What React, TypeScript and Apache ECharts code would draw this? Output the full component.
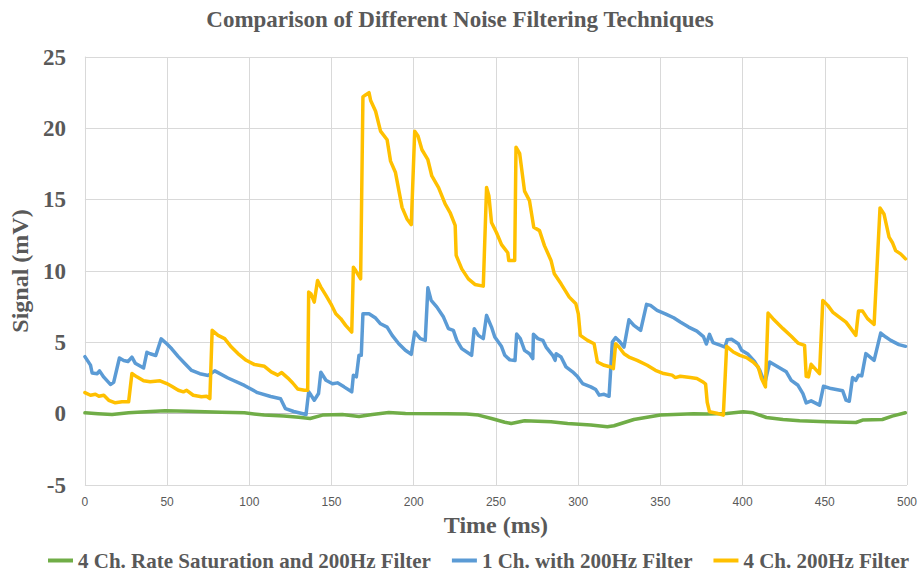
import React, { useEffect, useRef } from "react";
import * as echarts from "echarts";

const seriesNames = [
  "4 Ch. Rate Saturation and 200Hz Filter",
  "1 Ch. with 200Hz Filter",
  "4 Ch. 200Hz Filter",
];
const seriesColors = ["#70AD47", "#5B9BD5", "#FFC000"];

const xTicks = { min: 0, max: 500, interval: 50 };
const yTicks = { min: -5, max: 25, interval: 5 };

const greenT = [0, 8, 16.5, 26.6, 40, 48.8, 62.9, 83, 97, 109, 121, 130, 137, 144.5, 156.6, 166.7, 174.8, 184.8, 195, 220, 232, 239.3, 247.3, 255.4, 259.3, 267.4, 283.5, 293.6, 307.7, 317.8, 321.8, 333.9, 350, 370.2, 378.2, 390.3, 400.4, 406.4, 414.5, 424.6, 434.7, 450.8, 469, 473, 485, 491, 499];
const greenV = [0.06, 0.0, -0.06, 0.06, 0.15, 0.2, 0.17, 0.1, 0.06, -0.1, -0.17, -0.25, -0.34, -0.1, -0.06, -0.2, -0.06, 0.08, 0.01, 0.0, -0.02, -0.1, -0.34, -0.6, -0.69, -0.5, -0.57, -0.69, -0.8, -0.92, -0.85, -0.41, -0.1, 0.0, -0.03, 0.01, 0.13, 0.06, -0.27, -0.41, -0.5, -0.57, -0.62, -0.45, -0.41, -0.17, 0.06];

const blueT = [0, 3.4, 4.4, 7.5, 8.9, 11.5, 15.5, 17.5, 21, 23.6, 26.2, 28.6, 30.6, 35.7, 37.7, 39.7, 43.1, 46.4, 49.8, 52.8, 56.8, 60.9, 64.9, 69.9, 75, 79, 87, 97, 105, 113, 119, 122, 127, 134.5, 136.1, 137.5, 139.5, 142.1, 143.5, 146.6, 150.6, 153.6, 157.6, 162.3, 163.3, 165.1, 166.7, 168.1, 169.1, 172.8, 176.8, 179.8, 183.8, 186.9, 190.9, 194.9, 198.5, 200.6, 204, 207, 208.6, 210.6, 214.1, 218.1, 221.1, 224.1, 226.2, 229.2, 235.2, 236.8, 239.3, 242.3, 244.3, 247.3, 249.3, 253.4, 255.4, 258.4, 261.6, 262.6, 264.8, 267.4, 270.4, 272.4, 272.8, 275.5, 278.5, 280.5, 284.5, 286, 286.6, 289.6, 292.6, 296.6, 299.7, 302.7, 307.7, 310.7, 312.8, 315.8, 318.8, 320.8, 322.8, 325.5, 327.9, 330.9, 333.9, 338, 341.6, 344, 348, 353, 358.1, 362.1, 367.2, 372.2, 376.2, 378, 379.9, 382, 386.3, 389.3, 390.7, 393.3, 397.4, 399.4, 403.4, 407.5, 410.5, 413.5, 416.5, 420.6, 426.6, 429.6, 433.7, 436.7, 438.7, 441.7, 446.8, 449.2, 453.8, 460.9, 462.9, 464.9, 466.9, 468.9, 470.5, 472.5, 475, 480, 484, 487.1, 490.1, 495.1, 499.1];
const blueV = [4.0, 3.4, 2.85, 2.8, 3.0, 2.56, 2.05, 2.2, 3.9, 3.73, 3.66, 3.96, 3.54, 3.2, 4.3, 4.2, 4.08, 5.24, 4.9, 4.55, 4.0, 3.5, 3.03, 2.8, 2.68, 3.0, 2.5, 1.98, 1.47, 1.2, 1.05, 0.35, 0.15, -0.06, 1.53, 1.3, 0.94, 1.41, 2.9, 2.34, 2.1, 2.16, 1.88, 1.53, 2.7, 2.58, 4.09, 4.09, 7.0, 7.0, 6.7, 6.3, 6.07, 5.49, 4.9, 4.44, 4.16, 5.72, 5.26, 5.14, 8.82, 7.94, 7.47, 6.77, 5.96, 5.84, 5.14, 4.56, 4.09, 5.96, 5.49, 5.26, 6.89, 6.07, 5.37, 4.7, 4.09, 3.77, 3.72, 5.58, 5.26, 4.44, 4.2, 3.86, 5.56, 5.26, 5.14, 4.67, 4.09, 3.74, 4.2, 3.97, 3.28, 2.93, 2.58, 2.11, 1.88, 1.69, 1.3, 1.36, 1.22, 5.02, 5.33, 5.02, 4.67, 6.58, 6.19, 5.84, 7.66, 7.59, 7.24, 7.0, 6.72, 6.42, 6.07, 5.79, 5.4, 4.88, 5.56, 4.98, 4.8, 4.67, 5.19, 5.21, 4.9, 4.44, 4.16, 3.62, 3.04, 2.11, 3.62, 3.34, 2.93, 2.34, 1.99, 1.41, 0.76, 0.9, 0.6, 1.92, 1.76, 1.6, 0.95, 0.87, 2.53, 2.34, 2.69, 2.65, 4.21, 3.74, 5.65, 5.37, 5.14, 4.84, 4.72];

const yellowT = [0, 3.4, 6.4, 8.5, 11.5, 14.5, 18.5, 22.6, 26.6, 28.6, 31.6, 35.7, 39.7, 45.7, 49.8, 52.8, 56.8, 59.9, 61.9, 65.9, 70.9, 74, 76, 77.4, 81, 85, 89.1, 93.1, 98.1, 103.2, 109.2, 113.3, 117.3, 119.7, 123.3, 126.4, 129.4, 133.5, 135.5, 136.1, 137.5, 139.5, 141.5, 143.5, 146.6, 149.6, 152.6, 155.6, 158.6, 162.3, 163.3, 164.7, 167.7, 169.1, 170.7, 172.8, 173.8, 176.8, 179.8, 183.8, 185.9, 188.9, 192.9, 195.9, 198.5, 200.6, 202.6, 205, 208.6, 211, 215.1, 219.1, 222.1, 225.2, 225.8, 229.2, 233.2, 237.2, 242.3, 244.3, 245.7, 247.3, 250.3, 253.4, 257.2, 257.8, 261.4, 262.2, 264.4, 267.4, 270.4, 273, 276.5, 279.5, 283.5, 285.5, 289.6, 294.6, 298.6, 300.1, 301.3, 305.7, 309.7, 311.7, 315.8, 319.8, 321.4, 322.8, 324.8, 327.9, 330.9, 335.9, 342, 347, 352, 357.1, 359.1, 362.1, 368.2, 372.2, 376.2, 377.5, 378.5, 379.9, 384.3, 388.3, 390.3, 394.4, 398.4, 402.4, 406.4, 409.5, 411.5, 413.9, 415.5, 418.5, 424.6, 429.6, 433.7, 437.7, 438.7, 440.1, 441.7, 446.8, 448.8, 451.8, 454.8, 458.8, 462.9, 465.9, 468.9, 470.5, 473, 476, 480, 483.6, 486, 489.1, 491.1, 493.1, 496.1, 499.1];
const yellowV = [1.48, 1.29, 1.36, 1.22, 1.29, 0.94, 0.76, 0.83, 0.83, 2.81, 2.58, 2.3, 2.23, 2.3, 2.11, 1.92, 1.64, 1.53, 1.64, 1.29, 1.18, 1.22, 1.06, 5.84, 5.49, 5.26, 4.67, 4.21, 3.74, 3.44, 3.32, 2.93, 2.7, 2.88, 2.51, 2.15, 1.73, 1.64, 1.64, 8.52, 8.4, 7.82, 9.34, 8.87, 8.29, 7.7, 7.0, 6.66, 6.19, 5.72, 10.27, 10.03, 9.45, 22.2, 22.34, 22.5, 21.95, 21.2, 19.8, 19.2, 17.7, 16.9, 14.46, 13.65, 13.25, 19.8, 19.46, 18.5, 17.8, 16.66, 15.85, 14.7, 14.1, 13.2, 11.1, 10.15, 9.45, 9.06, 8.94, 15.86, 15.28, 13.4, 12.7, 11.85, 11.28, 10.74, 10.74, 18.68, 18.25, 15.6, 14.93, 13.07, 12.83, 11.78, 10.74, 9.8, 9.1, 8.17, 7.7, 7.0, 5.49, 5.14, 4.9, 3.62, 3.39, 3.27, 3.16, 4.9, 4.67, 4.2, 3.97, 3.74, 3.39, 3.04, 2.81, 2.7, 2.53, 2.62, 2.53, 2.46, 2.2, 2.08, 0.8, 0.13, 0.03, -0.1, 4.72, 4.32, 4.09, 3.93, 3.62, 3.27, 2.46, 1.88, 7.05, 6.66, 5.96, 5.42, 4.95, 4.79, 2.62, 2.58, 3.46, 2.81, 7.94, 7.59, 7.12, 6.77, 6.42, 5.96, 5.49, 7.19, 7.19, 6.66, 6.26, 14.42, 14.0, 12.37, 12.0, 11.43, 11.2, 10.85];

const zip = (t: number[], v: number[]) => t.map((x, i) => [x, v[i]]);

const TEXT = "#595959";
const SERIF = "'Liberation Serif', 'Times New Roman', serif";

export default function App() {
  const ref = useRef<HTMLDivElement>(null);
  useEffect(() => {
    if (!ref.current) return;
    const chart = echarts.init(ref.current, undefined, { renderer: "svg" });
    const datasets = [zip(greenT, greenV), zip(blueT, blueV), zip(yellowT, yellowV)];
    chart.setOption({
      animation: false,
      backgroundColor: "#ffffff",
      title: {
        text: "Comparison of Different Noise Filtering Techniques",
        left: "center",
        top: 8,
        padding: 0,
        textStyle: { fontFamily: SERIF, fontWeight: "bold", fontSize: 23, color: TEXT },
      },
      legend: {
        data: seriesNames,
        left: 48,
        top: 550,
        padding: 0,
        itemGap: 21,
        itemWidth: 25,
        itemHeight: 4,
        icon: "rect",
        textStyle: { fontFamily: SERIF, fontWeight: "bold", fontSize: 21, color: TEXT, padding: [0, 0, 0, 0] },
      },
      grid: { left: 81, right: 12, top: 57, bottom: 87, containLabel: false },
      xAxis: {
        type: "value",
        min: xTicks.min,
        max: xTicks.max,
        interval: xTicks.interval,
        name: "Time (ms)",
        nameLocation: "middle",
        nameGap: 28,
        nameTextStyle: { fontFamily: SERIF, fontWeight: "bold", fontSize: 24, color: TEXT },
        axisLine: { show: false },
        axisTick: { show: false },
        axisLabel: { margin: 11, fontSize: 12, color: TEXT, fontFamily: "'Liberation Sans Narrow', 'Arial Narrow', sans-serif" },
        splitLine: { show: true, lineStyle: { color: "#d9d9d9", width: 1 } },
      },
      yAxis: {
        type: "value",
        min: yTicks.min,
        max: yTicks.max,
        interval: yTicks.interval,
        name: "Signal (mV)",
        nameLocation: "middle",
        nameGap: 46,
        nameTextStyle: { fontFamily: SERIF, fontWeight: "bold", fontSize: 24, color: TEXT },
        axisLine: { show: true, lineStyle: { color: "#d9d9d9", width: 1 } },
        axisTick: { show: false },
        axisLabel: { margin: 19, fontSize: 23, fontWeight: "bold", color: TEXT, fontFamily: SERIF },
        splitLine: { show: true, lineStyle: { color: "#d9d9d9", width: 1 } },
      },
      series: datasets.map((d, i) => ({
        name: seriesNames[i],
        type: "line",
        data: d,
        symbol: "none",
        showSymbol: false,
        color: seriesColors[i],
        lineStyle: { color: seriesColors[i], width: 3.5, join: "round", cap: "round" },
        z: 2 + i,
        ...(i === 0
          ? {
              markLine: {
                silent: true,
                symbol: "none",
                label: { show: false },
                lineStyle: { color: "#bfbfbf", width: 1, type: "solid" },
                data: [{ yAxis: 0 }],
                z: 1,
              },
            }
          : {}),
      })),
    });
    return () => chart.dispose();
  }, []);
  return <div ref={ref} style={{ width: 920, height: 572, position: "absolute", left: 0, top: 0 }} />;
}
